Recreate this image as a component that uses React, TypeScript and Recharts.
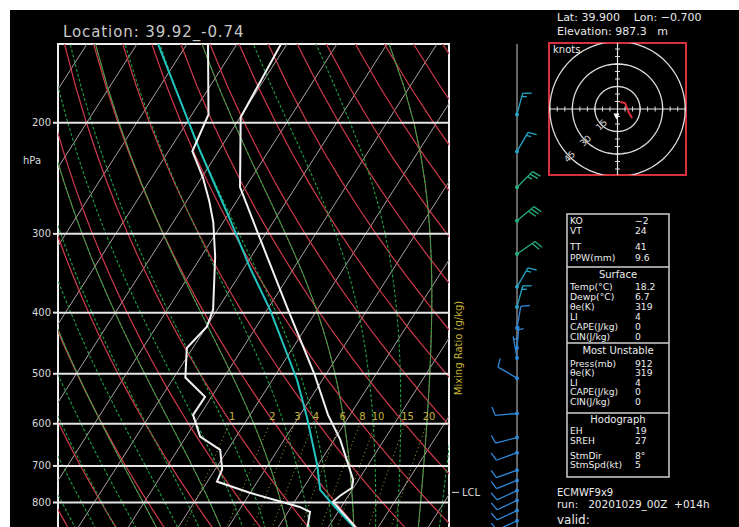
import React from "react";
import {
  ComposedChart,
  Line,
  Scatter,
  XAxis,
  YAxis,
  ReferenceLine,
  ReferenceArea,
} from "recharts";

const FONT = '"DejaVu Sans", sans-serif';

// sounding: pressure (hPa) / temperature (°C)
const TEMP_P = [150, 196, 253, 299, 396, 500, 581, 636, 736, 758, 781, 798, 850, 905];
const TEMP_T = [-61.2, -59.9, -51.1, -41.7, -25.8, -12.4, -4.4, 1.2, 8.9, 9.7, 8.3, 7.7, 13, 18.2];

const DEW_P = [150, 194, 222, 244, 266, 288, 326, 396, 421, 455, 507, 544, 581, 629, 660, 709, 741, 772, 813, 828, 905];
const DEW_T = [-75.8, -66.7, -65.2, -59.8, -55.5, -51.9, -47.2, -40.8, -39.9, -41.2, -37.7, -31.3, -31.4, -27.2, -21.5, -18.6, -18.1, -10.1, 1.7, 4.4, 6.7];

const PARCEL_P = [150, 221, 285, 339, 396, 511, 585, 697, 764, 807, 874, 905];
const PARCEL_T = [-85.8, -63.9, -48.9, -38.9, -29.4, -15.1, -8.4, -0.2, 3.6, 8.1, 15.0, 18.2];

const LCL_P = 771;

// wind barbs
const WIND_P = [194, 222, 253, 286, 323, 364, 392, 423, 455, 472, 508, 578, 631, 667, 711, 738, 766, 794, 824, 855];
const WIND_DIR = [15, 30, 45, 50, 55, 30, 15, 10, 5, 350, 300, 265, 255, 250, 250, 248, 245, 245, 245, 245];
const WIND_SPD = [15, 15, 25, 30, 20, 15, 15, 10, 5, 5, 10, 10, 10, 10, 10, 10, 10, 10, 10, 10];

// hodograph trace (kt)
const HODO_U = [1.7, 5, 6.3, 7.7, 9.7];
const HODO_V = [4.7, 4, 0.7, -2.7, -6];
const STORM_DIR = 8;
const STORM_SPD = 5;
const RINGS = [15, 30, 45];
const HODO_TICKS = [-45, -40, -35, -30, -25, -20, -15, -10, -5, 5, 10, 15, 20, 25, 30, 35, 40, 45];

// diagram background
const ISOBARS = [200, 300, 400, 500, 600, 700, 800, 900, 1000];
const P_LABELS = [200, 300, 400, 500, 600, 700, 800];
const ISOTHERMS = [-110, -100, -90, -80, -70, -60, -50, -40, -30, -20, -10, 0, 10, 20, 30, 40];
const DRY_THETA = [230, 240, 250, 260, 270, 280, 290, 300, 310, 320, 330, 340, 350, 360, 370, 380, 390, 400, 410, 420, 430, 440];
const MOIST_T0 = [-40, -36, -32, -28, -24, -20, -16, -12, -8, -4, 0, 4, 8, 12, 16, 20, 24, 28, 32, 36, 40];
const TAN_T0 = [-16, -4, 8, 20, 32];
const MIX_RATIOS = [1, 2, 3, 4, 6, 8, 10, 15, 20];

const SKEW = 35;
const P_TOP = 150;
const P_BOT = 1050;
const X_MIN = -39.4;
const X_MAX = 38.8;

type Pt = { x: number; p: number };

const sx = (t: number, p: number) => t + SKEW * Math.log(1000 / p);
const profile = (ps: number[], ts: number[]): Pt[] => ps.map((p, i) => ({ x: sx(ts[i], p), p }));

const LEVELS: number[] = [];
for (let p = P_TOP; p <= P_BOT; p += 25) LEVELS.push(p);

const dryLine = (th: number): Pt[] =>
  LEVELS.map((p) => ({ x: sx(th * Math.pow(p / 1000, 0.2857) - 273.15, p), p }));

const dTdp = (T: number, p: number) => {
  const es = 6.112 * Math.exp((17.67 * (T - 273.15)) / (T - 29.65));
  const rs = (0.622 * es) / (p - es);
  const num = 287.04 * T + 2.501e6 * rs;
  const den = 1005.7 + (2.501e6 * 2.501e6 * rs * 0.622) / (287.04 * T * T);
  return num / den / p;
};

const moistLine = (t0: number): Pt[] => {
  const up: Pt[] = [];
  let T = t0 + 273.15;
  for (let p = 1000; p >= P_TOP; p -= 5) {
    if (p % 25 === 0) up.push({ x: sx(T - 273.15, p), p });
    T -= dTdp(T, p) * 5;
  }
  const down: Pt[] = [];
  T = t0 + 273.15;
  for (let p = 1000; p <= P_BOT; p += 5) {
    if (p % 25 === 0 && p !== 1000) down.push({ x: sx(T - 273.15, p), p });
    T += dTdp(T, p) * 5;
  }
  return [...down.reverse(), ...up];
};

const mixT = (w: number, p: number) => {
  const e = (w * p) / (622 + w);
  const l = Math.log(e / 6.112);
  return (243.5 * l) / (17.67 - l);
};
const mixLine = (w: number): Pt[] =>
  [1050, 950, 850, 750, 650, 600].map((p) => ({ x: sx(mixT(w, p), p), p }));

const ISO_C = "#ae9fa2";
const DRY_C = "#d03a4c";
const MOIST_C = "#1f9e42";
const TAN_C = "#9e8c58";
const MIX_C = "#a8a43a";

const lineProps = { dataKey: "p", dot: false, isAnimationActive: false } as const;

const MixLabel = (props: any) => {
  const { cx, cy, payload } = props;
  return (
    <text x={cx} y={cy} textAnchor="middle" dominantBaseline="central" fill="#c8b43c" fontSize={10} fontFamily={FONT}>
      {payload.w}
    </text>
  );
};

const SkewChart = () => (
  <div style={{ position: "absolute", left: 0, top: 0 }}>
    <ComposedChart width={460} height={590} margin={{ top: 34, right: 21, bottom: 23, left: 8 }}>
      <XAxis type="number" dataKey="x" domain={[X_MIN, X_MAX]} allowDataOverflow hide />
      <YAxis
        type="number"
        dataKey="p"
        scale="log"
        domain={[P_TOP, P_BOT]}
        reversed
        allowDataOverflow
        width={40}
        ticks={P_LABELS}
        interval={0}
        tick={{ fill: "#d8d8d8", fontSize: 10, fontFamily: FONT }}
        axisLine={false}
        tickLine={{ stroke: "#e6e6e6", strokeWidth: 2 }}
        tickSize={5}
        tickMargin={2}
      />
      {ISOTHERMS.map((t) => (
        <Line key={"iso" + t} data={[{ x: sx(t, P_TOP), p: P_TOP }, { x: sx(t, P_BOT), p: P_BOT }]} stroke={ISO_C} strokeWidth={1} {...lineProps} />
      ))}
      {DRY_THETA.map((th) => (
        <Line key={"dry" + th} data={dryLine(th)} stroke={DRY_C} strokeWidth={1.2} {...lineProps} />
      ))}
      {TAN_T0.map((t) => (
        <Line key={"tan" + t} data={moistLine(t)} stroke={TAN_C} strokeWidth={1} {...lineProps} />
      ))}
      {MOIST_T0.map((t) => (
        <Line key={"wet" + t} data={moistLine(t)} stroke={MOIST_C} strokeWidth={1.1} strokeDasharray="3 2" {...lineProps} />
      ))}
      {MIX_RATIOS.map((w) => (
        <Line key={"mix" + w} data={mixLine(w)} stroke={MIX_C} strokeWidth={1} strokeDasharray="1 3" {...lineProps} />
      ))}
      {ISOBARS.map((p) => (
        <ReferenceLine key={"pl" + p} y={p} stroke="#e6e6e6" strokeWidth={2} />
      ))}
      <Scatter
        data={MIX_RATIOS.map((w) => ({ x: sx(mixT(w, 585), 585), p: 585, w }))}
        shape={MixLabel}
        isAnimationActive={false}
      />
      <Line data={profile(PARCEL_P, PARCEL_T)} stroke="#22c4c0" strokeWidth={2} {...lineProps} />
      <Line data={profile(DEW_P, DEW_T)} stroke="#f2f2f2" strokeWidth={2} {...lineProps} />
      <Line data={profile(TEMP_P, TEMP_T)} stroke="#f2f2f2" strokeWidth={2} {...lineProps} />
      <ReferenceArea x1={X_MIN} x2={X_MAX} y1={P_TOP} y2={P_BOT} fill="none" fillOpacity={0} stroke="#eeeeee" strokeWidth={2} />
    </ComposedChart>
  </div>
);

const barbColor = (spd: number) => (spd >= 20 ? "#28b07c" : spd >= 15 ? "#28a6c8" : "#2f88d8");

const Barb = (props: any) => {
  const { cx, cy, payload } = props;
  const col = barbColor(payload.spd);
  const a = (payload.dir * Math.PI) / 180;
  const ux = Math.sin(a);
  const uy = -Math.cos(a);
  const L = 22;
  const tx = cx + ux * L;
  const ty = cy + uy * L;
  const r = (75 * Math.PI) / 180;
  const fx = ux * Math.cos(r) - uy * Math.sin(r);
  const fy = ux * Math.sin(r) + uy * Math.cos(r);
  const feathers: [number, number][] = [];
  let left = payload.spd;
  let d = 0;
  while (left >= 10) {
    feathers.push([d, 9]);
    d += 3.5;
    left -= 10;
  }
  if (left >= 5) feathers.push([d === 0 ? 3.5 : d, 5]);
  return (
    <g>
      <line x1={cx} y1={cy} x2={tx} y2={ty} stroke={col} strokeWidth={1.3} />
      {feathers.map(([dd, len], i) => {
        const bx = tx - ux * dd;
        const by = ty - uy * dd;
        return <line key={i} x1={bx} y1={by} x2={bx + fx * len} y2={by + fy * len} stroke={col} strokeWidth={1.3} />;
      })}
      <circle cx={cx} cy={cy} r={2} fill={col} />
    </g>
  );
};

const LclMark = (props: any) => {
  const { cx, cy } = props;
  return (
    <g>
      <line x1={cx + 2} y1={cy} x2={cx + 9} y2={cy} stroke="#d8d8d8" strokeWidth={1} />
      <text x={cx + 12} y={cy} dominantBaseline="central" fill="#d8d8d8" fontSize={10} fontFamily={FONT}>
        LCL
      </text>
    </g>
  );
};

const STAFF_X = 67;

const WindChart = () => (
  <div style={{ position: "absolute", left: 440, top: 0 }}>
    <ComposedChart width={100} height={590} margin={{ top: 34, right: 0, bottom: 23, left: 0 }}>
      <XAxis type="number" dataKey="x" domain={[0, 100]} hide />
      <YAxis type="number" dataKey="p" scale="log" domain={[P_TOP, P_BOT]} reversed hide />
      <ReferenceLine x={STAFF_X} stroke="#c8c8c8" strokeWidth={1} />
      <Scatter
        data={WIND_P.map((p, i) => ({ x: STAFF_X, p, dir: WIND_DIR[i], spd: WIND_SPD[i] }))}
        shape={Barb}
        isAnimationActive={false}
      />
      <Scatter data={[{ x: 0, p: LCL_P }]} shape={LclMark} isAnimationActive={false} />
    </ComposedChart>
  </div>
);

const ringPts = (r: number) => {
  const out: { u: number; v: number }[] = [];
  for (let a = 0; a <= 360; a += 6) {
    out.push({ u: r * Math.cos((a * Math.PI) / 180), v: r * Math.sin((a * Math.PI) / 180) });
  }
  return out;
};

const TickV = (props: any) => (
  <line x1={props.cx} y1={props.cy - 2.5} x2={props.cx} y2={props.cy + 2.5} stroke="#e0e0e0" strokeWidth={1} />
);
const TickH = (props: any) => (
  <line x1={props.cx - 2.5} y1={props.cy} x2={props.cx + 2.5} y2={props.cy} stroke="#e0e0e0" strokeWidth={1} />
);
const StormMark = (props: any) => {
  const { cx, cy } = props;
  return <path d={`M${cx - 3},${cy - 3} L${cx + 3},${cy - 3} L${cx},${cy + 3} Z`} fill="#ffffff" />;
};
const RingLabel = (props: any) => {
  const { cx, cy, payload } = props;
  return (
    <text
      x={cx}
      y={cy}
      textAnchor="middle"
      dominantBaseline="central"
      fill="#d8d8d8"
      fontSize={9}
      fontFamily={FONT}
      transform={`rotate(-45 ${cx} ${cy})`}
    >
      {payload.r}
    </text>
  );
};

const Hodograph = () => (
  <div style={{ position: "absolute", left: 538, top: 32 }}>
    <ComposedChart width={139} height={134} margin={{ top: 1, right: 1, bottom: 1, left: 1 }}>
      <XAxis type="number" dataKey="u" domain={[-45.5, 45.5]} allowDataOverflow hide />
      <YAxis type="number" dataKey="v" domain={[-44, 44]} allowDataOverflow hide />
      {RINGS.map((r) => (
        <Line key={"ring" + r} data={ringPts(r)} dataKey="v" stroke="#dcdcdc" strokeWidth={1.3} dot={false} isAnimationActive={false} />
      ))}
      <ReferenceLine x={0} stroke="#e6e6e6" strokeWidth={1.2} />
      <ReferenceLine y={0} stroke="#e6e6e6" strokeWidth={1.2} />
      <Scatter data={HODO_TICKS.map((k) => ({ u: k, v: 0 }))} shape={TickV} isAnimationActive={false} />
      <Scatter data={HODO_TICKS.map((k) => ({ u: 0, v: k }))} shape={TickH} isAnimationActive={false} />
      <Scatter
        data={RINGS.map((r) => ({ u: -r * Math.SQRT1_2, v: -r * Math.SQRT1_2, r }))}
        shape={RingLabel}
        isAnimationActive={false}
      />
      <Line
        data={HODO_U.map((u, i) => ({ u, v: HODO_V[i] }))}
        dataKey="v"
        stroke="#e0303c"
        strokeWidth={2}
        dot={false}
        isAnimationActive={false}
      />
      <Scatter
        data={[{
          u: -STORM_SPD * Math.sin((STORM_DIR * Math.PI) / 180),
          v: -STORM_SPD * Math.cos((STORM_DIR * Math.PI) / 180),
        }]}
        shape={StormMark}
        isAnimationActive={false}
      />
      <ReferenceArea x1={-45.5} x2={45.5} y1={-44} y2={44} fill="none" fillOpacity={0} stroke="#d8303c" strokeWidth={2} />
    </ComposedChart>
  </div>
);

const INFO_ROWS: [string, string, number][] = [
  ["KO", "\u22122", 213.5],
  ["VT", "24", 224],
  ["TT", "41", 240],
  ["PPW(mm)", "9.6", 250.5],
  ["Temp(\u00b0C)", "18.2", 280],
  ["Dewp(\u00b0C)", "6.7", 290],
  ["\u03b8e(K)", "319", 300],
  ["LI", "4", 309.5],
  ["CAPE(J/kg)", "0", 319.5],
  ["CIN(J/kg)", "0", 329.5],
  ["Press(mb)", "912", 356.5],
  ["\u03b8e(K)", "319", 366],
  ["LI", "4", 375.5],
  ["CAPE(J/kg)", "0", 385],
  ["CIN(J/kg)", "0", 394.5],
  ["EH", "19", 423.5],
  ["SREH", "27", 433.5],
  ["StmDir", "8\u00b0", 448.5],
  ["StmSpd(kt)", "5", 458],
];

const INFO_HEADS: [string, number][] = [
  ["Surface", 268],
  ["Most Unstable", 343.5],
  ["Hodograph", 412.5],
];

const Labels = () => (
  <svg width={729} height={517} style={{ position: "absolute", left: 0, top: 0, pointerEvents: "none" }} fontFamily={FONT}>
    <text x={53} y={27} fill="#c8c8c8" fontSize={15} letterSpacing={0.9}>
      Location: 39.92_-0.74
    </text>
    <text x={13} y={154} fill="#d8d8d8" fontSize={10}>hPa</text>
    <text x={452} y={338} fill="#c8b43c" fontSize={10} textAnchor="middle" transform="rotate(-90 452 338)">
      Mixing Ratio (g/kg)
    </text>
    <text x={547} y={11} fill="#e8e8e8" fontSize={11} style={{ whiteSpace: "pre" }}>
      {"Lat: 39.900    Lon: \u22120.700"}
    </text>
    <text x={547} y={25} fill="#e8e8e8" fontSize={11} style={{ whiteSpace: "pre" }}>
      {"Elevation: 987.3   m"}
    </text>
    <text x={543} y={43} fill="#e8e8e8" fontSize={10}>knots</text>
    <rect x={557} y={204} width={102} height={263} fill="none" stroke="#d0d0d0" strokeWidth={1.5} />
    <line x1={557} y1={257} x2={659} y2={257} stroke="#d0d0d0" strokeWidth={1.5} />
    <line x1={557} y1={333} x2={659} y2={333} stroke="#d0d0d0" strokeWidth={1.5} />
    <line x1={557} y1={403} x2={659} y2={403} stroke="#d0d0d0" strokeWidth={1.5} />
    {INFO_ROWS.map(([k, v, y], i) => (
      <g key={i}>
        <text x={560} y={y} fill="#ececec" fontSize={9.2}>{k}</text>
        <text x={625} y={y} fill="#ececec" fontSize={9.2}>{v}</text>
      </g>
    ))}
    {INFO_HEADS.map(([h, y]) => (
      <text key={h} x={608} y={y} fill="#ececec" fontSize={10} textAnchor="middle">{h}</text>
    ))}
    <text x={547} y={486} fill="#ececec" fontSize={10}>ECMWF9x9</text>
    <text x={547} y={498} fill="#ececec" fontSize={10.5} style={{ whiteSpace: "pre" }}>
      {"run:   20201029_00Z  +014h"}
    </text>
    <text x={547} y={514} fill="#ececec" fontSize={12}>valid:</text>
  </svg>
);

export default function App() {
  return (
    <div
      style={{
        position: "absolute",
        left: 10,
        top: 10,
        width: 729,
        height: 517,
        background: "#000",
        overflow: "hidden",
      }}
    >
      <SkewChart />
      <WindChart />
      <Hodograph />
      <Labels />
    </div>
  );
}
